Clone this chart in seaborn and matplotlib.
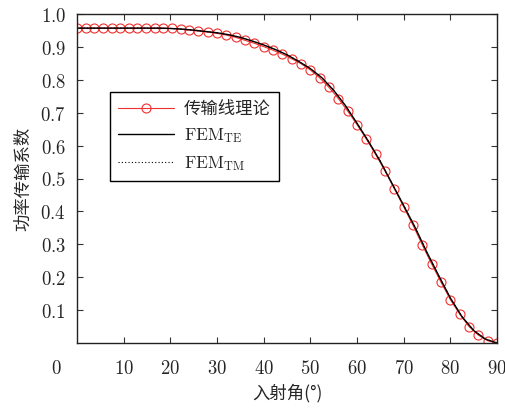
import numpy as np
import pandas as pd
import matplotlib
matplotlib.use("Agg")
import matplotlib.pyplot as plt
import seaborn as sns

# ---- data ----
theory_angle = [0, 1.85, 3.7, 5.55, 7.4, 9.25, 11.1, 12.95, 14.8, 16.65, 18.5, 20.35, 22.2,
                24, 26, 28, 30, 32, 34, 36, 38, 40, 42, 44, 46, 48, 50, 52, 54, 56, 58,
                60, 62, 64, 66, 68, 70, 72, 74, 76, 78, 80, 82, 84, 86, 88, 90]
theory_value = [0.957, 0.957, 0.957, 0.957, 0.957, 0.957, 0.957, 0.957, 0.957, 0.957, 0.957, 0.956, 0.954,
                0.951, 0.948, 0.945, 0.941, 0.936, 0.929, 0.920, 0.911, 0.901, 0.890, 0.878, 0.864, 0.849,
                0.830, 0.806, 0.777, 0.743, 0.705, 0.664, 0.620, 0.573, 0.523, 0.469, 0.414, 0.358,
                0.298, 0.240, 0.185, 0.132, 0.088, 0.050, 0.024, 0.007, 0.000]

fem_angle = [0, 2.5, 5, 7.5, 10, 12.5, 15, 17.5, 20, 22.5, 25, 27.5, 30, 32.5, 35, 37.5, 40, 42.5,
             45, 47.5, 50, 52.5, 55, 57.5, 60, 62.5, 65, 67.5, 70, 72.5, 75, 77.5, 80, 82.5, 85, 87.5, 90]
fem_te = [0.957, 0.957, 0.957, 0.957, 0.957, 0.957, 0.957, 0.957, 0.956, 0.954, 0.951, 0.947, 0.943,
          0.937, 0.929, 0.918, 0.906, 0.892, 0.876, 0.856, 0.834, 0.806, 0.768, 0.722, 0.668, 0.612,
          0.552, 0.485, 0.418, 0.350, 0.275, 0.205, 0.137, 0.080, 0.038, 0.012, 0.000]
fem_tm = [0.957, 0.957, 0.957, 0.957, 0.957, 0.957, 0.957, 0.957, 0.956, 0.954, 0.951, 0.947, 0.943,
          0.937, 0.929, 0.918, 0.906, 0.892, 0.876, 0.856, 0.834, 0.806, 0.768, 0.722, 0.668, 0.612,
          0.552, 0.485, 0.418, 0.350, 0.275, 0.205, 0.137, 0.080, 0.038, 0.012, 0.000]

x_ticks = [10, 20, 30, 40, 50, 60, 70, 80, 90]
y_ticks = [0.1, 0.2, 0.3, 0.4, 0.5, 0.6, 0.7, 0.8, 0.9, 1.0]
label_theory = "传输线理论"
label_te = r"$\mathrm{FEM}_{\mathrm{TE}}$"
label_tm = r"$\mathrm{FEM}_{\mathrm{TM}}$"
xlabel = "入射角(°)"
ylabel = "功率传输系数"

# ---- style ----
sns.set_style("ticks")
plt.rcParams["font.family"] = ["Noto Sans CJK SC", "DejaVu Sans"]
plt.rcParams["mathtext.fontset"] = "cm"
plt.rcParams["axes.unicode_minus"] = False

fig = plt.figure(figsize=(5.06, 4.09), dpi=100)
ax = fig.add_axes([77 / 506, 1 - 343 / 409, 420 / 506, 329 / 409])

df_t = pd.DataFrame({"angle": theory_angle, "value": theory_value})
df_te = pd.DataFrame({"angle": fem_angle, "value": fem_te})
df_tm = pd.DataFrame({"angle": fem_angle, "value": fem_tm})

red = "#f03030"
sns.lineplot(data=df_t, x="angle", y="value", ax=ax, color=red, linewidth=0.8,
             marker="o", markersize=6.5, markerfacecolor="none", markeredgecolor=red,
             markeredgewidth=0.8, label=label_theory, sort=False)
sns.lineplot(data=df_te, x="angle", y="value", ax=ax, color="black", linewidth=1.0,
             label=label_te, sort=False)
sns.lineplot(data=df_tm, x="angle", y="value", ax=ax, color="black", linewidth=0.8,
             linestyle=(0, (1, 2)), label=label_tm, sort=False)

ax.set_xlim(0, 90)
ax.set_ylim(0, 1.0)
ax.set_xticks(x_ticks)
ax.set_yticks(y_ticks)
ax.set_xticklabels([f"${t}$" for t in x_ticks])
ax.set_yticklabels([f"${t:.1f}$" for t in y_ticks])
ax.tick_params(direction="in", length=4, width=0.8, top=True, right=True,
               labelsize=13.5, pad=8, color="#333333")
ax.tick_params(axis="x", pad=11)
for s in ax.spines.values():
    s.set_visible(True)
    s.set_linewidth(1.0)
    s.set_color("#222222")

ax.annotate("$0$", xy=(0, 0), xycoords=("data", "axes fraction"), xytext=(-15, -11),
            textcoords="offset points", ha="center", va="top", fontsize=13.5)

ax.set_xlabel(xlabel, fontsize=12.5, labelpad=3)
ax.set_ylabel(ylabel, fontsize=12.5, labelpad=6)

leg = ax.legend(loc="upper left", bbox_to_anchor=(0.079, 0.763), borderaxespad=0,
                fontsize=12.5, frameon=True, fancybox=False, edgecolor="black",
                handlelength=3.2, handletextpad=0.6, labelspacing=0.5,
                borderpad=0.45)
leg.get_frame().set_linewidth(1.0)
leg.get_frame().set_alpha(1)

fig.savefig("out.png", dpi=100)
